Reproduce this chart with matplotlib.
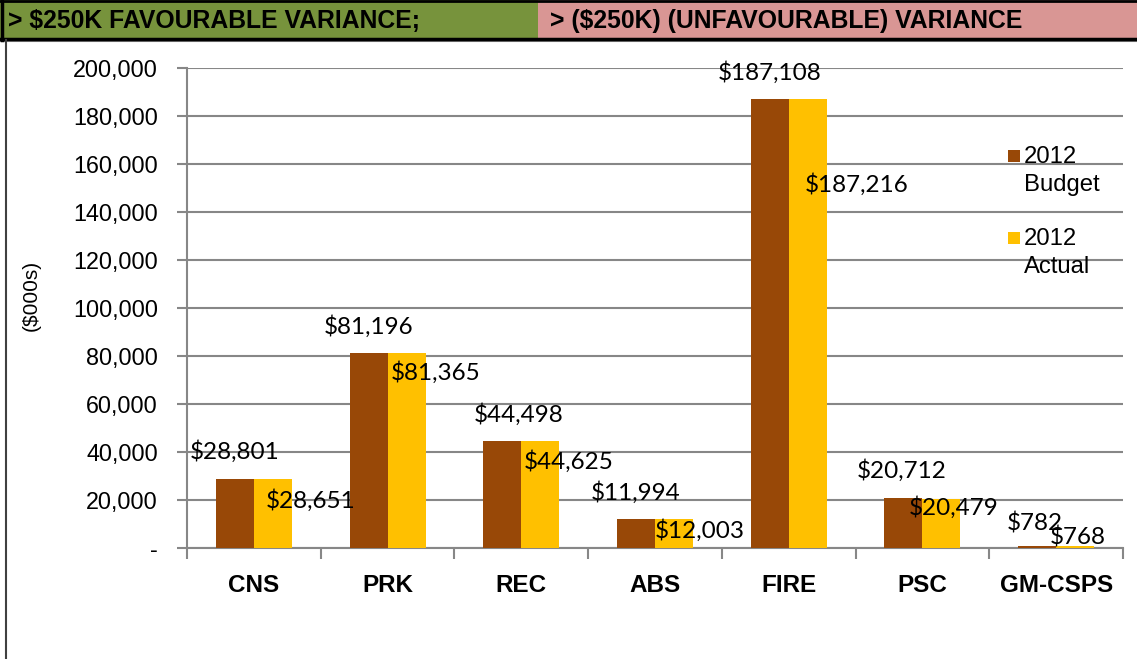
import matplotlib.pyplot as plt
from matplotlib.patches import Rectangle
from matplotlib.lines import Line2D
from matplotlib.ticker import FuncFormatter

# --- данные ---
categories = ['CNS', 'PRK', 'REC', 'ABS', 'FIRE', 'PSC', 'GM-CSPS']
budget_2012 = [28801, 81196, 44498, 11994, 187108, 20712, 782]
actual_2012 = [28651, 81365, 44625, 12003, 187216, 20479, 768]
yticks = [0, 20000, 40000, 60000, 80000, 100000, 120000, 140000, 160000, 180000, 200000]

# смещения подписей (пиксели) как в исходнике
budget_label_off = [(0, 27), (0, 27), (16, 27), (0, 27), (0, 26), (-2, 28), (-2, 23)]
actual_label_off = [(38, -21), (29, -20), (28, -21), (26, -11), (49, -86), (12, -9), (3, 9)]

c_budget = '#984807'
c_actual = '#FFC000'
c_grid = '#878787'

W, H = 1137, 659
fig = plt.figure(figsize=(W / 100, H / 100), dpi=100)

# шапка
fig.patches.append(Rectangle((0, 1 - 38 / H), 538 / W, 38 / H, transform=fig.transFigure,
                             facecolor='#77933C', edgecolor='none'))
fig.patches.append(Rectangle((538 / W, 1 - 38 / H), 1 - 538 / W, 38 / H, transform=fig.transFigure,
                             facecolor='#D99694', edgecolor='none'))
fig.lines.append(Line2D([0, 1], [1 - 1 / H, 1 - 1 / H], transform=fig.transFigure, color='black', lw=2))
fig.lines.append(Line2D([0, 1], [1 - 41 / H, 1 - 41 / H], transform=fig.transFigure, color='#808080', lw=1.5))
fig.lines.append(Line2D([0, 1], [1 - 39 / H, 1 - 39 / H], transform=fig.transFigure, color='black', lw=2.5))
fig.lines.append(Line2D([1.5 / W, 1.5 / W], [1 - 40 / H, 1], transform=fig.transFigure, color='black', lw=2.5))
fig.lines.append(Line2D([6 / W, 6 / W], [0, 1 - 40 / H], transform=fig.transFigure, color='#404040', lw=1.5))
fig.text(8 / W, 1 - 21 / H, '> $250K FAVOURABLE VARIANCE;', fontsize=17.8, fontweight='bold',
         family='Liberation Sans', va='center', ha='left')
fig.text(550 / W, 1 - 21 / H, '> ($250K) (UNFAVOURABLE) VARIANCE', fontsize=17.8, fontweight='bold',
         family='Liberation Sans', va='center', ha='left')

ax = fig.add_axes([187 / W, 1 - 548 / H, (1123 - 187) / W, (548 - 68) / H])

x = list(range(len(categories)))
bw = 0.284
xb = [i - bw / 2 for i in x]
xa = [i + bw / 2 for i in x]
ax.bar(xb, budget_2012, width=bw, color=c_budget, zorder=3)
ax.bar(xa, actual_2012, width=bw, color=c_actual, zorder=3)

for i in x:
    ax.annotate('$' + format(budget_2012[i], ','), (xb[i], budget_2012[i]),
                xytext=budget_label_off[i], textcoords='offset pixels',
                ha='center', va='center', fontsize=17.5, family='Lato', zorder=5)
    ax.annotate('$' + format(actual_2012[i], ','), (xa[i], actual_2012[i]),
                xytext=actual_label_off[i], textcoords='offset pixels',
                ha='center', va='center', fontsize=17.5, family='Lato', zorder=5)

ax.set_xlim(-0.5, len(categories) - 0.5)
ax.set_ylim(0, 200000)
ax.set_yticks(yticks)
ax.yaxis.set_major_formatter(FuncFormatter(lambda v, p: '-' if v == 0 else format(int(v), ',')))
ax.grid(axis='y', color=c_grid, lw=1.5, zorder=0)
ax.set_xticks(x)
ax.set_xticklabels(categories, fontsize=17.5, fontweight='bold', family='Liberation Sans')
ax.set_xticks([i - 0.5 for i in range(len(categories) + 1)], minor=True)
ax.tick_params(axis='x', which='major', length=0, pad=19)
ax.tick_params(axis='x', which='minor', length=8, width=1.5, color=c_grid, direction='out')
ax.tick_params(axis='y', length=7, width=1.5, color=c_grid, direction='out', pad=14)
for lab in ax.get_yticklabels():
    lab.set_fontsize(16.8)
    lab.set_family('Liberation Sans')
for s in ['top', 'right']:
    ax.spines[s].set_visible(False)
for s in ['left', 'bottom']:
    ax.spines[s].set_color(c_grid)
    ax.spines[s].set_linewidth(1.5)

fig.text(31 / W, 1 - 295 / H, '($000s)', rotation=90, fontsize=15, family='Liberation Sans',
         ha='center', va='center')

# легенда вручную
for k, (col, lbl) in enumerate([(c_budget, '2012\nBudget'), (c_actual, '2012\nActual')]):
    y0 = 150 + k * 82
    fig.patches.append(Rectangle((1008 / W, 1 - (y0 + 12) / H), 12 / W, 12 / H,
                                 transform=fig.transFigure, facecolor=col, edgecolor='none'))
    fig.text(1024 / W, 1 - (y0 - 4) / H, lbl, fontsize=17.2, family='Liberation Sans',
             ha='left', va='top', linespacing=1.38)

fig.savefig('out.png', dpi=100)
